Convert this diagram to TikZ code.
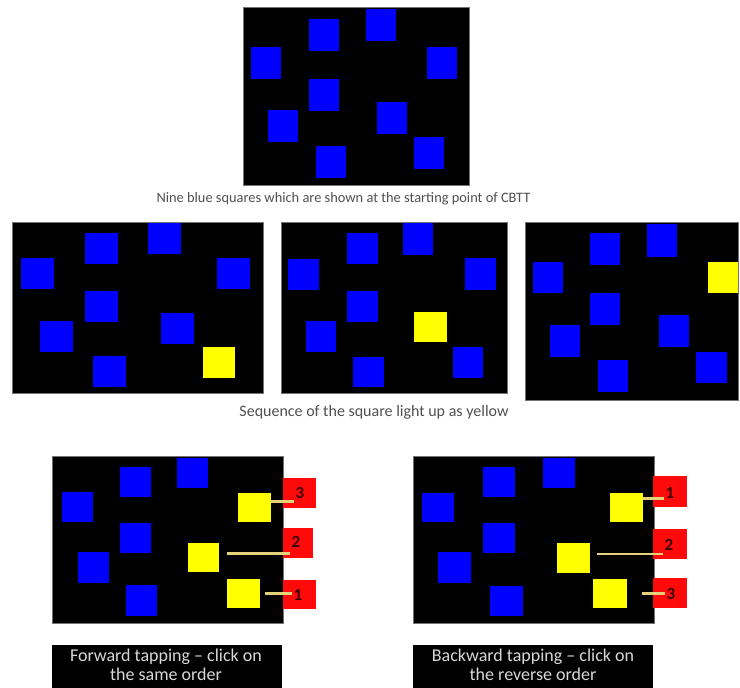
\documentclass[tikz,border=0pt]{standalone}
\usepackage{fontspec}
\setmainfont{Carlito}
\definecolor{sqblue}{HTML}{0000FF}
\definecolor{sqyellow}{HTML}{FFFF00}
\definecolor{boxred}{HTML}{FF0A0A}
\definecolor{linkcol}{HTML}{E4D27A}
\definecolor{numcol}{HTML}{3A0000}
\definecolor{captcol}{HTML}{505050}
\definecolor{tapcol}{HTML}{D8D8D8}
\newcommand\mkbsq[5]{\node[sqb,minimum width=#4pt,minimum height=#5pt] (#1) at (#2,#3) {};}
\newcommand\mkysq[5]{\node[sqy,minimum width=#4pt,minimum height=#5pt] (#1) at (#2,#3) {};}
\newcommand\mkpanel[5]{\node[panel,minimum width=#4pt,minimum height=#5pt] (#1) at (#2,#3) {};}
\begin{document}
\begin{tikzpicture}[x=1pt,y=-1pt,
  panel/.style={fill=black, draw=black!55, line width=0.5pt, inner sep=0, outer sep=0, anchor=north west},
  sqb/.style={fill=sqblue, inner sep=0, outer sep=0, anchor=north west},
  sqy/.style={fill=sqyellow, inner sep=0, outer sep=0, anchor=north west},
  redbox/.style={fill=boxred, inner sep=0, outer sep=0, anchor=north west},
  numtxt/.style={text=numcol, font=\fontsize{17}{17}\selectfont\bfseries, inner sep=1pt},
  link/.style={draw=linkcol, line width=2.4pt},
  captxt/.style={text=captcol, inner sep=0},
  tapbox/.style={fill=black, inner sep=0, outer sep=0, anchor=north west},
  taptxt/.style={text=tapcol, font=\fontsize{18}{19}\selectfont, align=center, inner sep=0}]
\useasboundingbox (0,0) rectangle (740,688);
% ---------- top panel ----------
\mkpanel{P0}{243}{7}{226}{178}
\mkbsq{t1}{309}{19}{30}{32}
\mkbsq{t2}{366}{9}{30}{32}
\mkbsq{t3}{251}{47}{30}{32}
\mkbsq{t4}{427}{47}{30}{32}
\mkbsq{t5}{309}{79}{30}{32}
\mkbsq{t6}{268}{110}{30}{32}
\mkbsq{t7}{377}{102}{30}{32}
\mkbsq{t8}{316}{146}{30}{32}
\mkbsq{t9}{414}{137}{30}{32}
\node[captxt, font=\fontsize{14.4}{16}\selectfont] (cap0) at (343.5,199) {Nine blue squares which are shown at the starting point of CBTT};
% ---------- middle panel A ----------
\mkpanel{PA}{12}{222}{251}{171}
\mkbsq{a1}{21}{258}{33}{31}
\mkbsq{a2}{85}{233}{33}{31}
\mkbsq{a3}{148}{223}{33}{31}
\mkbsq{a4}{217}{258}{33}{31}
\mkbsq{a5}{85}{291}{33}{31}
\mkbsq{a6}{40}{321}{33}{31}
\mkbsq{a7}{161}{313}{33}{31}
\mkbsq{a8}{93}{356}{33}{31}
\mkysq{ay}{203}{347}{32}{31}
% ---------- middle panel B ----------
\mkpanel{PB}{281}{222}{226}{171}
\mkbsq{b1}{288}{259}{31}{31}
\mkbsq{b2}{347}{233}{31}{31}
\mkbsq{b3}{403}{223}{30}{32}
\mkbsq{b4}{465}{258}{31}{32}
\mkbsq{b5}{347}{291}{31}{31}
\mkbsq{b6}{306}{321}{30}{31}
\mkbsq{b7}{453}{347}{30}{31}
\mkbsq{b8}{353}{357}{31}{30}
\mkysq{by}{414}{312}{33}{30}
% ---------- middle panel C ----------
\mkpanel{PC}{525}{222}{213}{178}
\mkbsq{c1}{533}{262}{30}{31}
\mkbsq{c2}{590}{233}{30}{32}
\mkbsq{c3}{647}{224}{30}{33}
\mkbsq{c4}{590}{293}{30}{32}
\mkbsq{c5}{550}{325}{30}{32}
\mkbsq{c6}{659}{315}{30}{32}
\mkbsq{c7}{598}{360}{30}{32}
\mkbsq{c8}{696}{352}{31}{31}
\mkysq{cy}{708}{262}{30}{31}
\node[captxt, font=\fontsize{16}{18}\selectfont] (cap1) at (374,412) {Sequence of the square light up as yellow};
% ---------- bottom panel D (forward) ----------
\mkpanel{PD}{52}{456}{231}{167}
\mkbsq{d1}{62}{492}{31}{30}
\mkbsq{d2}{120}{467}{31}{30}
\mkbsq{d3}{177}{458}{31}{30}
\mkbsq{d4}{120}{523}{31}{30}
\mkbsq{d5}{78}{552}{31}{31}
\mkbsq{d6}{126}{585}{31}{31}
\mkysq{dy3}{238}{493}{33}{29}
\mkysq{dy2}{188}{543}{31}{29}
\mkysq{dy1}{227}{579}{33}{29}
\node[redbox,minimum width=33pt,minimum height=30pt] (dr3) at (283,478) {};
\node[redbox,minimum width=30pt,minimum height=30pt] (dr2) at (283,528) {};
\node[redbox,minimum width=33pt,minimum height=29pt] (dr1) at (283,580) {};
\node[numtxt] (dn3) at (300,493) {3};
\node[numtxt] (dn2) at (296,542) {2};
\node[numtxt] (dn1) at (298,595) {1};
\draw[link] ([yshift=6pt]dy3.east) -- ([yshift=6pt]dy3.east -| dn3.west);
\draw[link] ([xshift=8pt,yshift=4pt]dy2.east) -- ([yshift=4pt]dy2.east -| dn2.west);
\draw[link] ([xshift=5pt]dy1.east) -- (dy1.east -| dn1.west);
\node[tapbox,minimum width=230pt,minimum height=43pt] (tapD) at (52,645) {};
\node[taptxt] (tapDt) at (166,665) {Forward tapping – click on\\the same order};
% ---------- bottom panel E (backward) ----------
\mkpanel{PE}{413}{456}{241}{167}
\mkbsq{e1}{422}{493}{32}{29}
\mkbsq{e2}{483}{467}{32}{30}
\mkbsq{e3}{543}{458}{32}{30}
\mkbsq{e4}{483}{523}{32}{30}
\mkbsq{e5}{438}{552}{33}{31}
\mkbsq{e6}{490}{586}{33}{30}
\mkysq{ey1}{610}{493}{33}{29}
\mkysq{ey2}{557}{543}{33}{30}
\mkysq{ey3}{593}{579}{34}{29}
\node[redbox,minimum width=34pt,minimum height=31pt] (er1) at (653,476) {};
\node[redbox,minimum width=34pt,minimum height=30pt] (er2) at (653,529) {};
\node[redbox,minimum width=34pt,minimum height=30pt] (er3) at (653,578) {};
\node[numtxt] (en1) at (670,493) {1};
\node[numtxt] (en2) at (669,545) {2};
\node[numtxt] (en3) at (671,594) {3};
\draw[link] ([yshift=9pt]ey1.east) -- ([yshift=9pt]ey1.east -| en1.west);
\draw[link] ([xshift=7pt,yshift=4pt]ey2.east) -- ([yshift=4pt]ey2.east -| en2.west);
\draw[link] ([xshift=15pt]ey3.east) -- (ey3.east -| en3.west);
\node[tapbox,minimum width=240pt,minimum height=43pt] (tapE) at (413,645) {};
\node[taptxt] (tapEt) at (533,665) {Backward tapping – click on\\the reverse order};
\end{tikzpicture}
\end{document}
